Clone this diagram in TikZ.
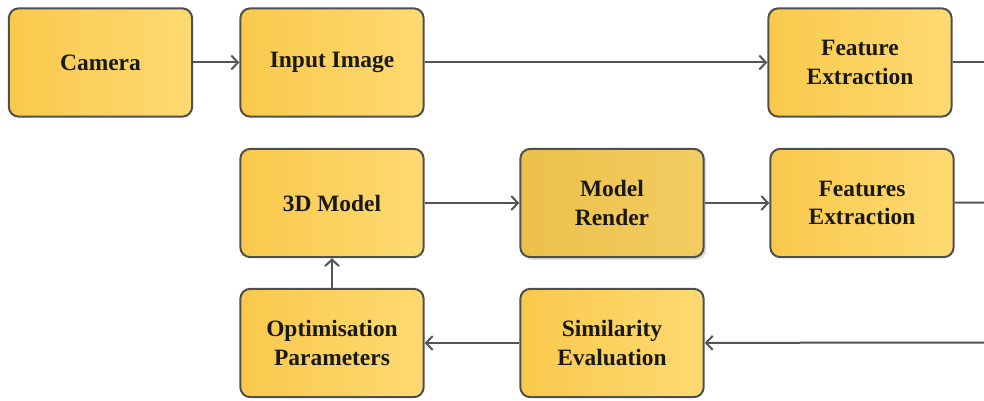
\documentclass[tikz,border=0pt]{standalone}
\usepackage{fontspec}
\setmainfont{Liberation Serif}
\usepackage{tikz}
\usetikzlibrary{arrows.meta,positioning,calc,shadows}
\definecolor{boxdark}{HTML}{F9C94C}
\definecolor{boxlight}{HTML}{FDDA72}
\definecolor{renderdark}{HTML}{ECC04A}
\definecolor{renderlight}{HTML}{F2CD62}
\definecolor{edge}{HTML}{4F4F4F}
\definecolor{wire}{HTML}{555555}

\begin{document}
\begin{tikzpicture}[x=0.03cm, y=-0.03cm,
  >={Straight Barb[length=0.2cm,width=0.42cm]},
  box/.style={draw=edge, rounded corners=0.3cm, line width=0.06cm,
    minimum width=5.5cm, minimum height=3.25cm, inner sep=2pt,
    shading=axis, shading angle=135, left color=boxdark, right color=boxlight,
    align=center, font=\fontsize{20}{24.5}\selectfont\bfseries, text=black!90},
  arr/.style={->, line width=0.06cm, draw=wire}]

\useasboundingbox (0,0) rectangle (984,401);

% Nodes
\node[box] (camera) at (100.5,62.5) {Camera};
\node[box] (input) at (332,62.5) {Input Image};
\node[box] (featext) at (860,62.5) {Feature\\Extraction};
\node[box] (model) at (332,203) {3D Model};
\node[box, left color=renderdark, right color=renderlight,
  drop shadow={shadow xshift=0.08cm, shadow yshift=-0.08cm, fill=black!25}]
  (render) at (612,203) {Model\\Render};
\node[box] (featsext) at (862,203) {Features\\Extraction};
\node[box] (optim) at (332,343) {Optimisation\\Parameters};
\node[box] (simil) at (612,343) {Similarity\\Evaluation};

% Off-page ends
\coordinate (out1) at (984,62.5);
\coordinate (out2) at (984,202.5);
\coordinate (in3) at (984,342.5);

% Arrows
\draw[arr] (camera) -- (input);
\draw[arr] (input) -- (featext);
\draw[arr, -] (featext) -- (out1);
\draw[arr] (model) -- (render);
\draw[arr] (render) -- (featsext);
\draw[arr, -] (featsext) -- (out2);
\draw[arr] (in3) -- (simil);
\draw[arr] (simil) -- (optim);
\draw[arr] (optim) -- (model);

\end{tikzpicture}
\end{document}
